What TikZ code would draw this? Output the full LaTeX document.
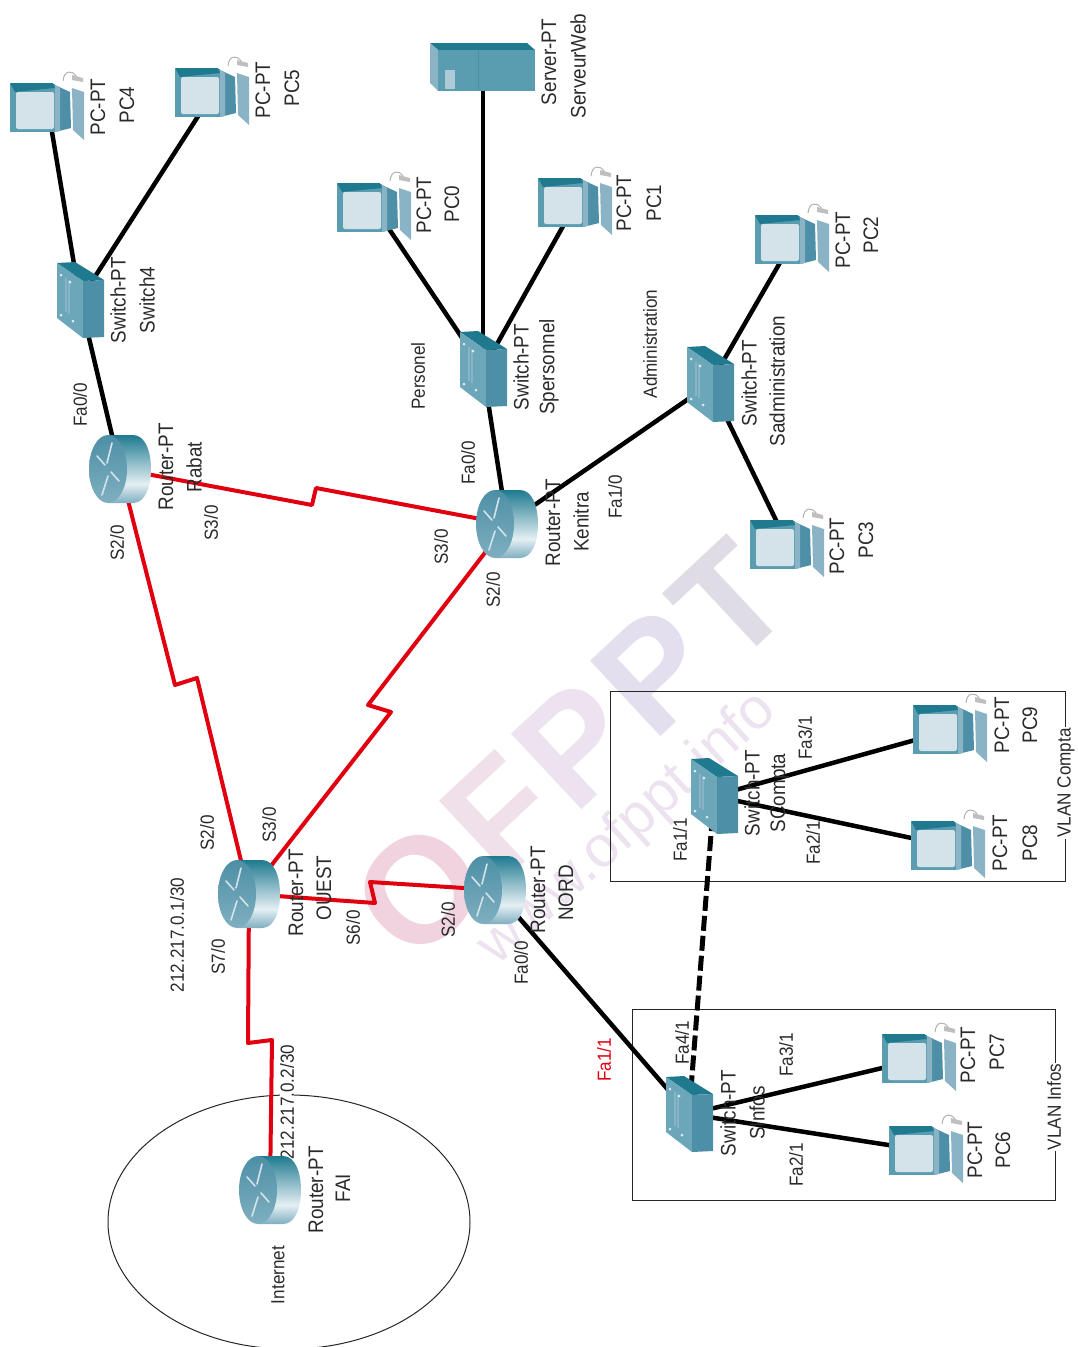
\documentclass[tikz,border=0pt]{standalone}
\usepackage{fontspec}
\setmainfont[FakeStretch=0.9]{Liberation Sans}
\newfontfamily\markfont{Liberation Sans}
\definecolor{redlink}{HTML}{E0000F}
\definecolor{textgrey}{HTML}{2A2A2A}
\definecolor{iconbody}{HTML}{5A9DB1}
\definecolor{icondark}{HTML}{1F7A90}
\definecolor{iconmid}{HTML}{4D8FA6}
\definecolor{iconlight}{HTML}{8AB4C6}
\definecolor{iconscreen}{HTML}{D4E2E9}
\definecolor{routerbot}{HTML}{7FAFC0}
\definecolor{routerpale}{HTML}{E4EFF3}
\definecolor{markpinka}{HTML}{F0D3DF}
\definecolor{markpinkb}{HTML}{F0E0EA}
\definecolor{markpurpa}{HTML}{EDE2F0}
\definecolor{markpurpb}{HTML}{E3DFEE}
\definecolor{markgrey}{HTML}{DFDCE6}
\pgfdeclareverticalshading{routerbody}{100bp}{color(0bp)=(routerbot); color(25bp)=(routerbot); color(39bp)=(routerpale); color(75bp)=(icondark); color(100bp)=(icondark)}
\tikzset{
  device/.style={inner sep=0pt, minimum size=0pt},
  devlabel/.style={rotate=90, inner sep=0pt, text=textgrey, font=\fontsize{21}{24}\selectfont},
  portlabel/.style={rotate=90, inner sep=0pt, text=textgrey, font=\fontsize{19}{24}\selectfont},
  blacklink/.style={line width=4.5pt, black},
  redwire/.style={line width=4pt, redlink, line join=round},
  areabox/.style={line width=1pt, black!85},
  pcicon/.pic={
    \fill[iconlight] (24,-20) -- (36,-16) -- (36,32) -- (25,22) -- cycle;
    \fill[iconmid] (7,-23) -- (22,-16) -- (23,20) -- (7,24) -- cycle;
    \fill[iconlight] (7,-23) -- (12,-20) -- (12,23) -- (7,24) -- cycle;
    \fill[iconbody] (-38,-24) rectangle (7,24);
    \fill[icondark] (-38,-25) -- (5,-25) -- (7,-20) -- (-33,-16) -- cycle;
    \fill[iconscreen, rounded corners=2pt] (-32,-16) rectangle (6,21);
    \draw[gray!60, line width=1pt] (15,-27) .. controls (16,-38) and (24,-38) .. (28,-32);
    \fill[gray!50] (24,-33) -- (35,-30) -- (35,-26) -- (24,-28) -- cycle;
  },
  switchicon/.pic={
    \fill[icondark] (-23,-37) -- (-5,-38) -- (24,-20) -- (3,-19) -- cycle;
    \fill[iconbody!90!white] (-23,-37) -- (3,-19) -- (3,38) -- (-23,18) -- cycle;
    \fill[iconmid] (3,-19) -- (24,-20) -- (24,37) -- (3,38) -- cycle;
    \draw[iconlight, line width=1.5pt] (-14,-22) -- (-14,12) (-11,-20) -- (-11,14);
    \fill[white!80!iconbody] (-19,-25) circle (1.5pt) (-10,-18) circle (1.5pt) (-19,15) circle (1.5pt) (-7,21) circle (1.5pt);
  },
  routericon/.pic={
    \shade[shading=routerbody] (-12,-34) -- (13,-34) .. controls (25,-34) and (31,-18) .. (31,0) .. controls (31,18) and (25,34) .. (13,34) -- (-12,34) -- cycle;
    \shade[top color=iconmid, bottom color=routerbot] (-12,0) ellipse [x radius=19pt, y radius=34pt];
    \draw[iconscreen, line width=1.6pt, line cap=round] (-8,-26) -- (-13,-6) (-23,-13) -- (-15,-4) (-9,3) -- (-1,12) (-12,7) -- (-18,26);
  },
  servericon/.pic={
    \fill[icondark] (-53,-25) -- (44,-25) -- (52,-18) -- (-45,-18) -- cycle;
    \fill[iconlight] (-53,-25) -- (-45,-18) -- (-45,23) -- (-53,15) -- cycle;
    \fill[iconbody] (-45,-18) rectangle (52,23);
    \fill[iconlight!70!white] (-38,2) rectangle (-28,21);
    \draw[iconmid, line width=0.8pt] (-5,-18) -- (-5,23);
  }
}
\begin{document}
\begin{tikzpicture}[x=1pt,y=-1pt]
\useasboundingbox (0,0) rectangle (1078,1347);

\node[rotate=43, inner sep=0pt, font=\markfont\bfseries\fontsize{150}{160}\selectfont] (markbig) at (570,750) {\textcolor{markpinka}{O}\hspace{7pt}\textcolor{markpinkb}{F}\hspace{7pt}\textcolor{markpurpa}{P}\hspace{7pt}\textcolor{markpurpb}{P}\hspace{7pt}\textcolor{markgrey}{T}};
\node[rotate=42, inner sep=0pt, text=markpurpa, font=\markfont\fontsize{58}{66}\selectfont] (marksmall) at (628,829) {www.ofppt.info};

\draw[areabox] (289,1222) ellipse [x radius=181pt, y radius=127pt];
\draw[areabox] (610,691) rectangle (1065,881);
\draw[areabox] (632,1009) rectangle (1055,1200);

\node[device] (pc4) at (48,108) {};
\node[device] (pc5) at (213,93) {};
\node[device] (switch4) at (80,300) {};
\node[device] (rabat) at (120,469) {};
\node[device] (serveurweb) at (483,68) {};
\node[device] (pc0) at (375,208) {};
\node[device] (pc1) at (576,203) {};
\node[device] (spersonnel) at (483,369) {};
\node[device] (kenitra) at (507,524) {};
\node[device] (sadmin) at (710,384) {};
\node[device] (pc2) at (793,240) {};
\node[device] (pc3) at (788,545) {};
\node[device] (ouest) at (249,894) {};
\node[device] (nord) at (495,890) {};
\node[device] (fai) at (270,1190) {};
\node[device] (scompta) at (714,796) {};
\node[device] (pc9) at (951,730) {};
\node[device] (pc8) at (949,846) {};
\node[device] (sinfos) at (689,1114) {};
\node[device] (pc7) at (920,1059) {};
\node[device] (pc6) at (927,1151) {};

\coordinate (rk1) at (312,505);
\coordinate (rk2) at (316,488);
\coordinate (ro1) at (175,685);
\coordinate (ro2) at (197,678);
\coordinate (ko1) at (391,712);
\coordinate (ko2) at (368,705);
\coordinate (on1) at (375,903);
\coordinate (on2) at (370,882);
\coordinate (of1) at (248,1043);
\coordinate (of2) at (272,1040);

\draw[blacklink] (pc4) -- (switch4);
\draw[blacklink] (pc5) -- (switch4);
\draw[blacklink] (switch4) -- (rabat);
\draw[blacklink] (serveurweb) -- (spersonnel);
\draw[blacklink] (pc0) -- (spersonnel);
\draw[blacklink] (pc1) -- (spersonnel);
\draw[blacklink] (spersonnel) -- (kenitra);
\draw[blacklink] (kenitra) -- (sadmin);
\draw[blacklink] (pc2) -- (sadmin);
\draw[blacklink] (pc3) -- (sadmin);
\draw[blacklink] (nord) -- (sinfos);
\draw[blacklink] (scompta) -- (pc9);
\draw[blacklink] (scompta) -- (pc8);
\draw[blacklink] (sinfos) -- (pc7);
\draw[blacklink] (sinfos) -- (pc6);
\draw[blacklink, line width=5pt, dash pattern=on 15pt off 5pt] (scompta) -- (sinfos);
\draw[redwire] (rabat) -- (rk1) -- (rk2) -- (kenitra);
\draw[redwire] (rabat) -- (ro1) -- (ro2) -- (ouest);
\draw[redwire] (kenitra) -- (ko2) -- (ko1) -- (ouest);
\draw[redwire] (ouest) -- (on1) -- (on2) -- (nord);
\draw[redwire] (ouest) -- (of1) -- (of2) -- (fai);

\node[devlabel] (pc4type) at (98,107) {PC-PT};
\node[devlabel] (pc4name) at (127,105) {PC4};
\node[devlabel] (pc5type) at (263,90) {PC-PT};
\node[devlabel] (pc5name) at (292,88) {PC5};
\node[devlabel] (sw4type) at (118,300) {Switch-PT};
\node[devlabel] (sw4name) at (147,300) {Switch4};
\node[devlabel] (rabattype) at (166,467) {Router-PT};
\node[devlabel] (rabatname) at (194,467) {Rabat};
\node[devlabel] (servtype) at (549,62) {Server-PT};
\node[devlabel] (servname) at (578,66) {ServeurWeb};
\node[devlabel] (pc0type) at (424,205) {PC-PT};
\node[devlabel] (pc0name) at (452,204) {PC0};
\node[devlabel] (pc1type) at (624,203) {PC-PT};
\node[devlabel] (pc1name) at (654,203) {PC1};
\node[devlabel] (sperstype) at (521,367) {Switch-PT};
\node[devlabel] (spersname) at (549,367) {Spersonnel};
\node[devlabel] (kentype) at (553,523) {Router-PT};
\node[devlabel] (kenname) at (581,522) {Kenitra};
\node[devlabel] (sadmintype) at (749,383) {Switch-PT};
\node[devlabel] (sadminname) at (777,381) {Sadministration};
\node[devlabel] (pc2type) at (843,240) {PC-PT};
\node[devlabel] (pc2name) at (871,235) {PC2};
\node[devlabel] (pc3type) at (837,546) {PC-PT};
\node[devlabel] (pc3name) at (866,540) {PC3};
\node[devlabel] (ouesttype) at (296,893) {Router-PT};
\node[devlabel] (ouestname) at (324,888) {OUEST};
\node[devlabel] (nordtype) at (538,890) {Router-PT};
\node[devlabel] (nordname) at (566,893) {NORD};
\node[devlabel] (faitype) at (316,1190) {Router-PT};
\node[devlabel] (fainame) at (343,1188) {FAI};
\node[devlabel] (scomptatype) at (752,793) {Switch-PT};
\node[devlabel] (scomptaname) at (780,793) {SCompta};
\node[devlabel] (pc9type) at (1002,725) {PC-PT};
\node[devlabel] (pc9name) at (1030,725) {PC9};
\node[devlabel] (pc8type) at (1000,843) {PC-PT};
\node[devlabel] (pc8name) at (1030,843) {PC8};
\node[devlabel] (sinfostype) at (728,1113) {Switch-PT};
\node[devlabel] (sinfosname) at (757,1113) {SInfos};
\node[devlabel] (pc7type) at (968,1055) {PC-PT};
\node[devlabel] (pc7name) at (997,1052) {PC7};
\node[devlabel] (pc6type) at (975,1150) {PC-PT};
\node[devlabel] (pc6name) at (1003,1150) {PC6};

\node[portlabel] (rabatfa) at (80,405) {Fa0/0};
\node[portlabel] (rabats2) at (117,543) {S2/0};
\node[portlabel] (rabats3) at (211,523) {S3/0};
\node[portlabel] (kenfa0) at (468,463) {Fa0/0};
\node[portlabel] (kenfa1) at (615,497) {Fa1/0};
\node[portlabel] (kens3) at (441,547) {S3/0};
\node[portlabel] (kens2) at (493,590) {S2/0};
\node[portlabel] (personel) at (418,376) {Personel};
\node[portlabel] (administration) at (650,344) {Administration};
\node[portlabel] (ouests2) at (207,833) {S2/0};
\node[portlabel] (ouests3) at (269,825) {S3/0};
\node[portlabel] (ouestip) at (177,935) {212.217.0.1/30};
\node[portlabel] (ouests7) at (218,957) {S7/0};
\node[portlabel] (ouests6) at (353,928) {S6/0};
\node[portlabel] (nords2) at (448,920) {S2/0};
\node[portlabel] (nordfa) at (521,963) {Fa0/0};
\node[portlabel, fill=white, inner xsep=2pt] (faiip) at (287,1102) {212.217.0.2/30};
\node[portlabel] (internet) at (278,1275) {Internet};
\node[portlabel, text=redlink] (sinfosfa1) at (604,1060) {Fa1/1};
\node[portlabel] (sinfosfa4) at (682,1043) {Fa4/1};
\node[portlabel] (sinfosfa3) at (786,1055) {Fa3/1};
\node[portlabel] (sinfosfa2) at (796,1165) {Fa2/1};
\node[portlabel] (scomptafa1) at (680,840) {Fa1/1};
\node[portlabel] (scomptafa3) at (805,738) {Fa3/1};
\node[portlabel] (scomptafa2) at (813,843) {Fa2/1};
\node[portlabel, fill=white, inner xsep=1pt] (vlancompta) at (1066,783) {VLAN Compta};
\node[portlabel, fill=white, inner xsep=1pt] (vlaninfos) at (1054,1107) {VLAN Infos};

\pic at (pc0) {pcicon};
\pic at (pc1) {pcicon};
\pic at (pc2) {pcicon};
\pic at (pc3) {pcicon};
\pic at (pc4) {pcicon};
\pic at (pc5) {pcicon};
\pic at (pc6) {pcicon};
\pic at (pc7) {pcicon};
\pic at (pc8) {pcicon};
\pic at (pc9) {pcicon};
\pic at (switch4) {switchicon};
\pic at (spersonnel) {switchicon};
\pic at (sadmin) {switchicon};
\pic at (scompta) {switchicon};
\pic at (sinfos) {switchicon};
\pic at (rabat) {routericon};
\pic at (kenitra) {routericon};
\pic at (ouest) {routericon};
\pic at (nord) {routericon};
\pic at (fai) {routericon};
\pic at (serveurweb) {servericon};

\end{tikzpicture}
\end{document}
